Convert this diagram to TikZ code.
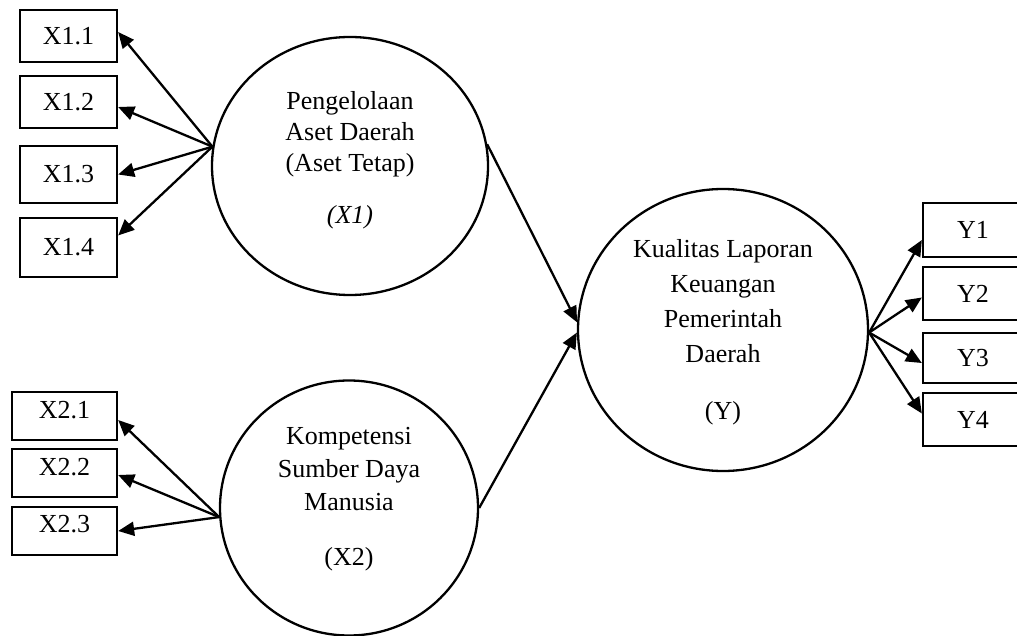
\documentclass[tikz,border=0pt]{standalone}
\usepackage{fontspec}
\setmainfont{Liberation Serif}
\usetikzlibrary{shapes.geometric,arrows.meta}

\begin{document}
\begin{tikzpicture}[x=1pt,y=-1pt,
  indbox/.style={draw=black,line width=2.3pt,rectangle,inner sep=0pt,font=\fontsize{26}{31}\selectfont},
  latent/.style={draw=black,line width=2.3pt,ellipse,inner sep=0pt,align=center},
  load/.style={black,line width=2.3pt,-{Triangle[length=16pt,width=14pt]}}]
\useasboundingbox (0,0) rectangle (1017,636);
\clip (0,0) rectangle (1017,636);
\node [latent,minimum width=276pt,minimum height=258pt,text depth=17pt,font=\fontsize{26}{31}\selectfont] (x1) at (350,166) {Pengelolaan\\Aset Daerah\\(Aset Tetap)\\[21pt]\textit{(X1)}};
\node [latent,minimum width=258pt,minimum height=255pt,text depth=24pt,font=\fontsize{26}{33}\selectfont] (x2) at (349,508) {Kompetensi\\Sumber Daya\\Manusia\\[22pt](X2)};
\node [latent,minimum width=290pt,minimum height=282pt,text depth=2pt,font=\fontsize{26}{35}\selectfont] (y) at (723,330) {Kualitas Laporan\\Keuangan\\Pemerintah\\Daerah\\[22pt](Y)};
\node [indbox,minimum width=97pt,minimum height=52pt] (x11) at (68.5,36) {X1.1};
\node [indbox,minimum width=97pt,minimum height=52pt] (x12) at (68.5,102) {X1.2};
\node [indbox,minimum width=97pt,minimum height=57pt] (x13) at (68.5,174.5) {X1.3};
\node [indbox,minimum width=97pt,minimum height=59pt] (x14) at (68.5,247.5) {X1.4};
\node [indbox,minimum width=105pt,minimum height=48pt,text depth=12pt] (x21) at (64.5,416) {X2.1};
\node [indbox,minimum width=105pt,minimum height=48pt,text depth=12pt] (x22) at (64.5,473) {X2.2};
\node [indbox,minimum width=105pt,minimum height=48pt,text depth=14pt] (x23) at (64.5,531) {X2.3};
\node [indbox,minimum width=100pt,minimum height=54pt] (y1) at (973,230) {Y1};
\node [indbox,minimum width=100pt,minimum height=53pt] (y2) at (973,293.5) {Y2};
\node [indbox,minimum width=100pt,minimum height=50pt] (y3) at (973,358) {Y3};
\node [indbox,minimum width=100pt,minimum height=53pt] (y4) at (973,419.5) {Y4};
\draw [load] (x1.172) -- ([yshift=4pt]x11.east);
\draw [load] (x1.172) -- ([yshift=-5pt]x12.east);
\draw [load] (x1.172) -- (x13.east);
\draw [load] (x1.172) -- ([yshift=12pt]x14.east);
\draw [load] (x2.184) -- ([yshift=-4pt]x21.east);
\draw [load] (x2.184) -- ([yshift=-2pt]x22.east);
\draw [load] (x2.184) -- (x23.east);
\draw [load] (x1.9) -- (y.177);
\draw [load] (x2.0) -- (y.181);
\draw [load] (y.359) -- ([yshift=-10pt]y1.west);
\draw [load] (y.359) -- ([yshift=-4pt]y2.west);
\draw [load] (y.359) -- ([yshift=-5pt]y3.west);
\draw [load] (y.359) -- ([yshift=6pt]y4.west);
\end{tikzpicture}
\end{document}
